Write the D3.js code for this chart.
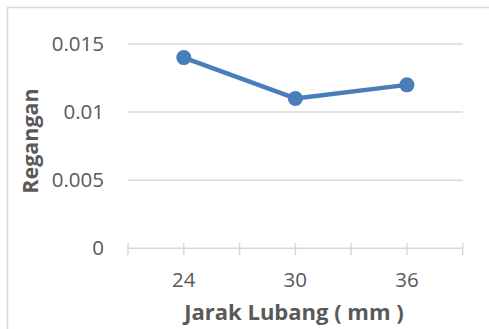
<!DOCTYPE html>
<html><head><meta charset="utf-8">
<script src="https://cdn.jsdelivr.net/npm/d3@7"></script>
<style>body{margin:0;background:#fff}svg{display:block}</style>
</head><body>
<script>
const categories = ["24", "30", "36"];
const values = [0.014, 0.011, 0.012];
const yTicks = [0, 0.005, 0.01, 0.015];
const yTickLabels = ["0", "0.005", "0.01", "0.015"];
const xTitle = "Jarak Lubang ( mm )";
const yTitle = "Regangan";

(function () {
const W = 489, H = 329;
const font = "'Open Sans', sans-serif";
const textColor = "#595959";
const gridColor = "#d9d9d9";
const lineColor = "#4a7ebb";

const svg = d3.select("body").append("svg").attr("width", W).attr("height", H);
svg.append("rect").attr("width", W).attr("height", H).attr("fill", "#fff");
// frame
svg.append("path").attr("d", `M7.5,${H} V7.5 H${W}`).attr("fill", "none").attr("stroke", gridColor).attr("stroke-width", 1.5);

const pLeft = 128, pRight = 462.7, pTop = 44, pBottom = 248.3;
const x = d3.scaleBand().domain(categories).range([pLeft, pRight]);
const y = d3.scaleLinear().domain([0, 0.015]).range([pBottom, pTop]);

// gridlines
svg.append("g").selectAll("line").data(yTicks.filter(d => d > 0)).join("line")
  .attr("x1", pLeft).attr("x2", pRight).attr("y1", d => y(d)).attr("y2", d => y(d))
  .attr("stroke", gridColor).attr("stroke-width", 1.5);

// y labels
svg.append("g").selectAll("text").data(yTicks).join("text")
  .attr("x", 104).attr("y", d => y(d)).attr("dy", "0.35em")
  .attr("text-anchor", "end").attr("fill", textColor)
  .style("font-family", font).style("font-size", "20.5px")
  .text((d, i) => yTickLabels[i]);

// x axis line
svg.append("line").attr("x1", pLeft).attr("x2", pRight).attr("y1", pBottom).attr("y2", pBottom)
  .attr("stroke", gridColor).attr("stroke-width", 1.5);
// ticks: band boundaries and centers
const tickPos = [];
categories.forEach((c) => { tickPos.push(x(c)); tickPos.push(x(c) + x.bandwidth() / 2); });
tickPos.push(pRight);
svg.append("g").selectAll("line").data(tickPos).join("line")
  .attr("x1", d => d).attr("x2", d => d).attr("y1", pBottom - 5.5).attr("y2", pBottom + 7)
  .attr("stroke", gridColor).attr("stroke-width", 1.5);

// x labels
svg.append("g").selectAll("text").data(categories).join("text")
  .attr("x", d => x(d) + x.bandwidth() / 2).attr("y", 280).attr("dy", "0.35em")
  .attr("text-anchor", "middle").attr("fill", textColor)
  .style("font-family", font).style("font-size", "20.5px")
  .text(d => d);

// titles
svg.append("text").attr("x", 294).attr("y", 312).attr("dy", "0.35em")
  .attr("text-anchor", "middle").attr("fill", textColor)
  .style("font-family", font).style("font-size", "22px").style("font-weight", "bold")
  .text(xTitle);
svg.append("text").attr("transform", "translate(30,141) rotate(-90)").attr("dy", "0.35em")
  .attr("text-anchor", "middle").attr("fill", textColor)
  .style("font-family", font).style("font-size", "21.5px").style("font-weight", "bold")
  .text(yTitle);

// line
const pts = categories.map((c, i) => [x(c) + x.bandwidth() / 2, y(values[i])]);
svg.append("path").attr("d", d3.line()(pts)).attr("fill", "none")
  .attr("stroke", lineColor).attr("stroke-width", 4.5).attr("stroke-linejoin", "round");
svg.append("g").selectAll("circle").data(pts).join("circle")
  .attr("cx", d => d[0]).attr("cy", d => d[1]).attr("r", 7.5).attr("fill", lineColor);
})();
</script>
</body></html>
